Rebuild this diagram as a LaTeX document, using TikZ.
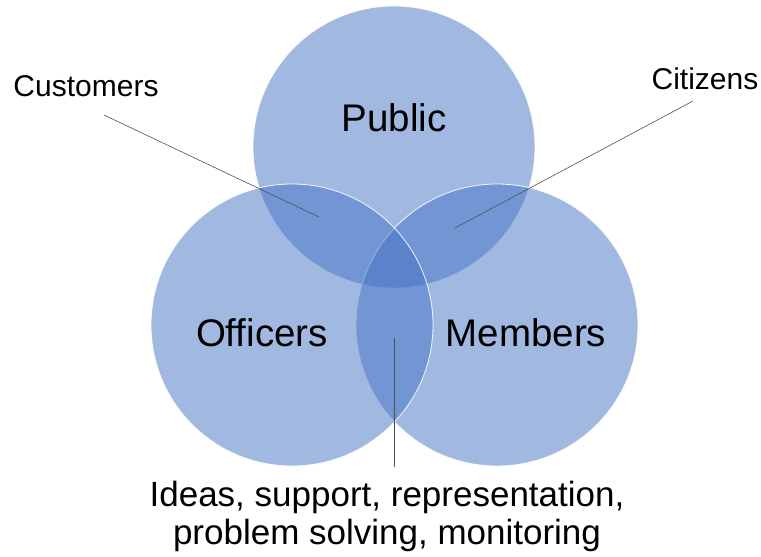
\documentclass[tikz,border=0pt]{standalone}
\usepackage{fontspec}
\setmainfont{Liberation Sans}
\definecolor{vennblue}{RGB}{68,114,196}
\definecolor{leadergray}{RGB}{80,80,80}
\tikzset{
  venn/.style={circle,minimum size=282pt,inner sep=0pt,fill=vennblue,fill opacity=0.5,
    draw=white,draw opacity=0.9,line width=0.8pt},
  setlabel/.style={font=\fontsize{38.5}{46}\selectfont,inner sep=0pt,anchor=base},
  sidelabel/.style={font=\fontsize{30}{36}\selectfont,inner sep=0pt,anchor=base},
  leader/.style={draw=leadergray,line width=0.6pt}
}
\begin{document}
\begin{tikzpicture}[x=1pt,y=-1pt]
  \useasboundingbox (0,0) rectangle (761,557);
  \node[venn] (public) at (394,147) {};
  \node[venn] (members) at (497,325) {};
  \node[venn] (officers) at (292,325) {};
  \node[setlabel] (publiclabel) at (394,131) {Public};
  \node[setlabel] (officerslabel) at (262,346) {Officers};
  \node[setlabel] (memberslabel) at (526,346) {Members};
  \node[sidelabel] (customers) at (86,96) {Customers};
  \node[sidelabel] (citizens) at (705,89) {Citizens};
  \node[sidelabel,font=\fontsize{35}{38}\selectfont,align=center] (ideas) at (387,544)
    {Ideas, support, representation,\\problem solving, monitoring};
  \coordinate (customersfoot) at (104,115);
  \coordinate (customerstip) at (319,217);
  \coordinate (citizensfoot) at (693,101);
  \coordinate (citizenstip) at (455,228);
  \coordinate (ideasfoot) at (394,467);
  \coordinate (ideastip) at (394,338);
  \begin{scope}[leader]
    \draw (customersfoot) -- (customerstip);
    \draw (citizensfoot) -- (citizenstip);
    \draw (ideasfoot) -- (ideastip);
  \end{scope}
\end{tikzpicture}
\end{document}
